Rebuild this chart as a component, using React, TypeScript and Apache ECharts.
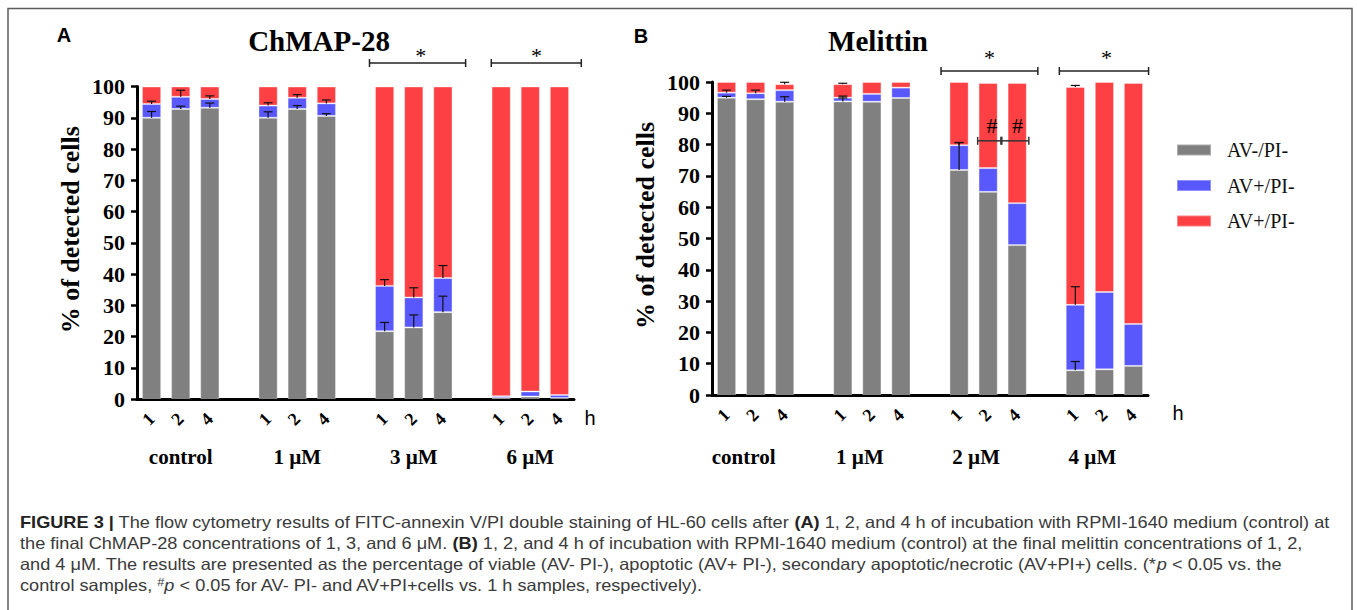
import { useEffect, useRef } from 'react';
import * as echarts from 'echarts';

// ---------- data ----------
const hours = ['1', '2', '4'];
const groupsA = ['control', '1 µM', '3 µM', '6 µM'];
const groupsB = ['control', '1 µM', '2 µM', '4 µM'];
const legendNames = ['AV-/PI-', 'AV+/PI-', 'AV+/PI+'];
const legendLabels = ['AV-/PI-', 'AV+/PI-', 'AV+/PI-'];

// Panel A – ChMAP-28 (per group: 1 h, 2 h, 4 h)
const viableA = [90.0, 92.8, 93.2, 90.0, 92.8, 90.6, 21.7, 22.9, 27.8, 0.3, 0.8, 0.3];
const apoptoticA = [4.4, 3.9, 2.8, 3.9, 3.6, 4.0, 14.5, 9.6, 10.9, 0.6, 1.6, 1.0];
const necroticA = [5.6, 3.3, 4.0, 6.1, 3.6, 5.4, 63.8, 67.5, 61.3, 99.1, 97.6, 98.7];
const viableErrA = [2.0, 0.9, 1.5, 1.9, 1.1, 0.7, 2.8, 4.0, 5.1, 0, 0, 0];
const apoptoticErrA = [0.9, 2.1, 1.0, 0.9, 1.0, 1.1, 2.0, 3.1, 4.0, 0, 0, 0];
const necroticErrA = [0, 0, 0, 0, 0, 0, 0, 0, 0, 0, 0, 0];

// Panel B – Melittin
const viableB = [95.0, 94.5, 93.7, 93.8, 93.7, 94.9, 71.9, 64.9, 47.9, 7.9, 8.2, 9.3];
const apoptoticB = [1.6, 1.9, 3.7, 1.2, 2.5, 3.3, 7.9, 7.6, 13.4, 20.9, 24.7, 13.4];
const necroticB = [3.4, 3.6, 1.9, 4.3, 3.8, 1.8, 20.2, 27.2, 38.4, 69.6, 67.1, 77.0];
const viableErrB = [0.4, 0, 1.6, 1.1, 0, 0, 8.8, 0, 0, 2.8, 0, 0];
const apoptoticErrB = [0.8, 1.0, 0, 0.5, 0, 0, 0.8, 0, 0, 5.8, 0, 0];
const necroticErrB = [0, 0, 0.6, 0.3, 0, 0, 0, 0, 0, 0.5, 0, 0];

// significance annotations (fractional category index, value)
const starBracketsA = [{ from: 7.48, to: 10.78, star: 9.24 }, { from: 11.66, to: 14.75, star: 13.21 }];
const starBracketsB = [{ from: 7.38, to: 10.71, star: 9.05 }, { from: 11.45, to: 14.52, star: 13.07 }];
const starLevelA = 107.5;
const starLevelB = 103.5;
const hashBracketsB = [{ from: 8.64, to: 9.44, mark: 9.13 }, { from: 9.47, to: 10.4, mark: 10.01 }];
const hashLevelB = 81.2;

const captionLines: [string, string][][] = [
  [['b', 'FIGURE 3 |'], ['n', ' The flow cytometry results of FITC-annexin V/PI double staining of HL-60 cells after '], ['b', '(A)'], ['n', ' 1, 2, and 4 h of incubation with RPMI-1640 medium (control) at']],
  [['n', 'the final ChMAP-28 concentrations of 1, 3, and 6 μM. '], ['b', '(B)'], ['n', ' 1, 2, and 4 h of incubation with RPMI-1640 medium (control) at the final melittin concentrations of 1, 2,']],
  [['n', 'and 4 μM. The results are presented as the percentage of viable (AV- PI-), apoptotic (AV+ PI-), secondary apoptotic/necrotic (AV+PI+) cells. (*'], ['i', 'p'], ['n', ' < 0.05 vs. the']],
  [['n', 'control samples, '], ['s', '#'], ['i', 'p'], ['n', ' < 0.05 for AV- PI- and AV+PI+cells vs. 1 h samples, respectively).']],
];

// ---------- styles ----------
const GRAY = '#808080';
const BLUE = '#5858fd';
const RED = '#fc4044';
const SERIF = '"Liberation Serif", "Times New Roman", serif';
const SANS = '"Liberation Sans", Arial, sans-serif';

const buildCats = (groups: string[]) => {
  const c: string[] = [];
  groups.forEach((g, gi) => {
    if (gi) c.push(`gap${gi}`);
    hours.forEach((h) => c.push(`${g}|${h}`));
  });
  return c;
};
const catIndex = (i: number) => i + Math.floor(i / 3);
const spread = (vals: number[]) => {
  const out: (number | string)[] = [];
  vals.forEach((v, i) => {
    if (i > 0 && i % 3 === 0) out.push('-');
    out.push(v);
  });
  return out;
};

const mkX = (gi: number, cats: string[]) => ({
  type: 'category',
  gridIndex: gi,
  data: cats,
  axisLine: { lineStyle: { color: '#000', width: 3 } },
  axisTick: { alignWithLabel: true, interval: 0, length: 6, lineStyle: { color: '#000', width: 2.5 } },
  axisLabel: {
    interval: 0,
    rotate: 45,
    margin: 17,
    formatter: (v: string) => (v.startsWith('gap') ? '' : v.split('|')[1]),
    fontFamily: SERIF,
    fontWeight: 'bold',
    fontSize: 18,
    color: '#000',
  },
  splitLine: { show: false },
});

const mkY = (gi: number) => ({
  type: 'value',
  gridIndex: gi,
  min: 0,
  max: 100,
  interval: 10,
  name: '% of detected cells',
  nameLocation: 'middle',
  nameRotate: 90,
  nameGap: 54,
  nameTextStyle: { fontFamily: SERIF, fontWeight: 'bold', fontSize: 26, color: '#000', padding: [0, 0, 0, 26] },
  axisLine: { show: true, lineStyle: { color: '#000', width: 3 } },
  axisTick: { show: true, length: 6, lineStyle: { color: '#000', width: 2.5 } },
  axisLabel: { margin: 12, fontFamily: SERIF, fontWeight: 'bold', fontSize: 22, color: '#000' },
  splitLine: { show: false },
});

const errData = (viable: number[], apo: number[], nec: number[], ev: number[], ea: number[], en: number[]) => {
  const d: number[][] = [];
  viable.forEach((v, i) => {
    const ci = catIndex(i);
    if (ev[i]) d.push([ci, v, ev[i]]);
    if (ea[i]) d.push([ci, v + apo[i], ea[i]]);
    if (en[i]) d.push([ci, v + apo[i] + nec[i], en[i]]);
  });
  return d;
};

const errSeries = (gi: number, data: number[][]) => ({
  type: 'custom',
  name: `err${gi}`,
  xAxisIndex: gi,
  yAxisIndex: gi,
  z: 10,
  encode: { x: 0, y: 1 },
  data,
  renderItem: (_p: any, api: any) => {
    const x = api.value(0);
    const base = api.value(1);
    const err = api.value(2);
    const p0 = api.coord([x, base]);
    const p1 = api.coord([x, base + err]);
    return {
      type: 'group',
      children: [
        { type: 'line', shape: { x1: p0[0], y1: p0[1], x2: p1[0], y2: p1[1] }, style: { stroke: '#111', lineWidth: 1.2 } },
        { type: 'line', shape: { x1: p1[0] - 4.5, y1: p1[1], x2: p1[0] + 4.5, y2: p1[1] }, style: { stroke: '#111', lineWidth: 1.2 } },
      ],
    };
  },
});

const barSeries = (gi: number, name: string, data: number[], color: string) => ({
  type: 'bar',
  name,
  xAxisIndex: gi,
  yAxisIndex: gi,
  stack: `s${gi}`,
  barWidth: '66%',
  data: spread(data),
  itemStyle: { color, borderColor: 'rgba(255,255,255,0.35)', borderWidth: 1 },
});

const buildOption = () => ({
  animation: false,
  backgroundColor: '#fff',
  grid: [
    { left: 137, top: 86.5, width: 437, height: 312.5, containLabel: false, outerBoundsMode: 'none' },
    { left: 712, top: 82, width: 436, height: 313, containLabel: false, outerBoundsMode: 'none' },
  ],
  xAxis: [mkX(0, buildCats(groupsA)), mkX(1, buildCats(groupsB))],
  yAxis: [mkY(0), mkY(1)],
  legend: {
    data: legendNames,
    orient: 'vertical',
    left: 1171,
    top: 135,
    itemWidth: 34,
    itemHeight: 11,
    itemGap: 15.5,
    icon: 'rect',
    selectedMode: false,
    formatter: (n: string) => legendLabels[legendNames.indexOf(n)],
    textStyle: { fontFamily: SERIF, fontSize: 20, color: '#111', padding: [0, 0, 0, 11] },
  },
  series: [
    barSeries(0, legendNames[0], viableA, GRAY),
    barSeries(0, legendNames[1], apoptoticA, BLUE),
    barSeries(0, legendNames[2], necroticA, RED),
    barSeries(1, legendNames[0], viableB, GRAY),
    barSeries(1, legendNames[1], apoptoticB, BLUE),
    barSeries(1, legendNames[2], necroticB, RED),
    errSeries(0, errData(viableA, apoptoticA, necroticA, viableErrA, apoptoticErrA, necroticErrA)),
    errSeries(1, errData(viableB, apoptoticB, necroticB, viableErrB, apoptoticErrB, necroticErrB)),
  ],
});

const text = (x: number, y: number, t: string, style: any) => ({
  type: 'text',
  x,
  y,
  z: 20,
  style: { text: t, fill: '#000', align: 'center', verticalAlign: 'middle', ...style },
});
const line = (x1: number, y1: number, x2: number, y2: number, stroke = '#222', lineWidth = 1.5) => ({
  type: 'line',
  z: 20,
  shape: { x1, y1, x2, y2 },
  style: { stroke, lineWidth },
});

const measure = (t: string, font: string) => {
  const c = document.createElement('canvas').getContext('2d')!;
  c.font = font;
  return c.measureText(t).width;
};

const buildGraphics = (chart: any) => {
  const els: any[] = [];
  const px = (gi: number, ci: number, v: number) => chart.convertToPixel({ gridIndex: gi }, [ci, v]);
  const fx = (gi: number, f: number) => {
    const a = px(gi, 0, 0)[0];
    const b = px(gi, 1, 0)[0];
    return a + f * (b - a);
  };
  const yv = (gi: number, v: number) => px(gi, 0, v)[1];

  // frame
  els.push({
    type: 'polyline',
    shape: { points: [[8, 615], [8, 8.5], [1352, 8.5], [1352, 615]] },
    style: { stroke: '#5c5c5c', lineWidth: 1.5, fill: null },
  });

  // panel letters and titles
  els.push(text(64, 35, 'A', { fontFamily: SANS, fontWeight: 'bold', fontSize: 20 }));
  els.push(text(641, 36, 'B', { fontFamily: SANS, fontWeight: 'bold', fontSize: 20 }));
  els.push(text(319, 41, 'ChMAP-28', { fontFamily: SERIF, fontWeight: 'bold', fontSize: 29 }));
  els.push(text(878, 41, 'Melittin', { fontFamily: SERIF, fontWeight: 'bold', fontSize: 29 }));

  // group labels and unit "h"
  const groupOffset = [0, -12];
  [groupsA, groupsB].forEach((groups, gi) => {
    groups.forEach((g, k) => {
      const x = px(gi, k * 4 + 1, 0)[0] + groupOffset[gi];
      els.push(text(x, 457, g, { fontFamily: SERIF, fontWeight: 'bold', fontSize: 21 }));
    });
  });
  els.push(text(590, yv(0, 0) + 19, 'h', { fontFamily: SANS, fontSize: 20 }));
  els.push(text(1178, yv(1, 0) + 18, 'h', { fontFamily: SANS, fontSize: 20 }));

  // star brackets
  const stars: [number, any[], number, number][] = [
    [0, starBracketsA, starLevelA, 7.5],
    [1, starBracketsB, starLevelB, 13.5],
  ];
  stars.forEach(([gi, list, lvl, lift]) => {
    const y = yv(gi, lvl);
    list.forEach((b: any) => {
      const x1 = fx(gi, b.from);
      const x2 = fx(gi, b.to);
      els.push(line(x1, y, x2, y));
      els.push(line(x1, y - 4, x1, y + 4));
      els.push(line(x2, y - 4, x2, y + 4));
      els.push(text(fx(gi, b.star), y - lift, '*', { fontFamily: SERIF, fontSize: 22 }));
    });
  });

  // hash brackets (panel B)
  const hy = yv(1, hashLevelB);
  hashBracketsB.forEach((b) => {
    const x1 = fx(1, b.from);
    const x2 = fx(1, b.to);
    els.push(line(x1, hy, x2, hy, '#333', 1.5));
    els.push(line(x1, hy - 4, x1, hy + 4, '#333', 1.5));
    els.push(line(x2, hy - 4, x2, hy + 4, '#333', 1.5));
    els.push(text(fx(1, b.mark), hy - 15, '#', { fontFamily: SERIF, fontSize: 22 }));
  });

  // caption
  const capSize = 16.5;
  const fonts: Record<string, string> = {
    n: `${capSize}px "Liberation Sans"`,
    b: `bold ${capSize}px "Liberation Sans"`,
    i: `italic ${capSize}px "Liberation Sans"`,
    s: `${capSize * 0.7}px "Liberation Sans"`,
  };
  const lineWidthOf = (segs: [string, string][]) => segs.reduce((s, [k, t]) => s + measure(t, fonts[k]), 0);
  const scale = (1330 - 20) / lineWidthOf(captionLines[0]);
  const esc = (t: string) => t.replace(/[{}]/g, '');
  captionLines.forEach((segs, li) => {
    const rich = segs.map(([k, t]) => (k === 'n' ? esc(t) : `{${k}|${esc(t)}}`)).join('');
    els.push({
      type: 'text',
      x: 20,
      y: 522 + li * 21,
      z: 20,
      scaleX: scale,
      style: {
        text: rich,
        fontFamily: '"Liberation Sans", Arial, sans-serif',
        fontSize: capSize,
        fill: '#3a3a3a',
        align: 'left',
        verticalAlign: 'middle',
        rich: {
          b: { fontWeight: 'bold', fill: '#222', fontSize: capSize, fontFamily: '"Liberation Sans", Arial, sans-serif' },
          i: { fontStyle: 'italic', fill: '#3a3a3a', fontSize: capSize, fontFamily: '"Liberation Sans", Arial, sans-serif' },
          s: { fontSize: capSize * 0.7, fill: '#3a3a3a', verticalAlign: 'top', fontFamily: '"Liberation Sans", Arial, sans-serif' },
        },
      },
    });
  });

  return els;
};

export default function App() {
  const ref = useRef<HTMLDivElement>(null);
  useEffect(() => {
    const chart = echarts.init(ref.current!, null, { renderer: 'svg' });
    chart.setOption(buildOption() as any);
    chart.setOption({ graphic: { elements: buildGraphics(chart) } } as any);
    return () => chart.dispose();
  }, []);
  return (
    <div
      ref={ref}
      style={{ position: 'absolute', left: 0, top: 0, width: 1357, height: 610, background: '#fff' }}
    />
  );
}
